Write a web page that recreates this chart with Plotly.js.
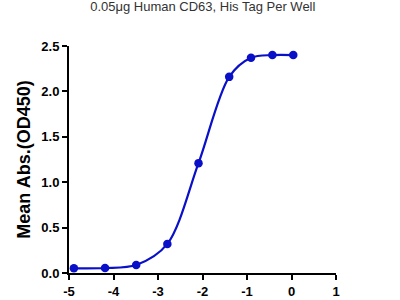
<!DOCTYPE html>
<html>
<head>
<meta charset="utf-8">
<script src="https://cdn.plot.ly/plotly-3.0.1.min.js"></script>
<style>html,body{margin:0;padding:0;background:#fff;}#chart{width:400px;height:300px;}</style>
</head>
<body>
<div id="chart"></div>
<script>
const logConc = [-4.89, -4.19, -3.49, -2.79, -2.09, -1.40, -0.91, -0.43, 0.04];
const meanAbs = [0.052, 0.055, 0.088, 0.32, 1.21, 2.16, 2.37, 2.40, 2.40];
const xTicks = [-5, -4, -3, -2, -1, 0, 1];
const yTicks = [0, 0.5, 1, 1.5, 2, 2.5];
const yTickLabels = ['0.0', '0.5', '1.0', '1.5', '2.0', '2.5'];
const titleText = '0.05μg Human CD63, His Tag Per Well';
const yTitleText = 'Mean Abs.(OD450)';

const blue = '#0a0fc8';
const trace = {
  x: logConc, y: meanAbs, type: 'scatter', mode: 'lines+markers',
  line: {color: blue, width: 2.2, shape: 'spline', smoothing: 0.9},
  marker: {color: blue, size: 8.5},
  cliponaxis: false, hoverinfo: 'none'
};
const tickFont = {family: 'Liberation Sans, Arial, sans-serif', size: 13, color: '#000', weight: 'bold'};
const layout = {
  width: 400, height: 300,
  margin: {l: 69, r: 64, t: 46, b: 27},
  paper_bgcolor: '#fff', plot_bgcolor: '#fff',
  showlegend: false,
  title: {text: titleText, x: 0.507, xanchor: 'center', y: 0.978, yanchor: 'middle',
    font: {family: 'Liberation Sans, Arial, sans-serif', size: 13, color: '#333'}},
  xaxis: {range: [-5, 1], tickvals: xTicks, ticktext: xTicks.map(String),
    showgrid: false, zeroline: false, showline: true, linecolor: '#000', linewidth: 2,
    ticks: 'outside', ticklen: 5, tickwidth: 2, tickcolor: '#000', tickfont: tickFont},
  yaxis: {range: [0, 2.5], tickvals: yTicks, ticktext: yTickLabels,
    showgrid: false, zeroline: false, showline: true, linecolor: '#000', linewidth: 2,
    ticks: 'outside', ticklen: 5, tickwidth: 2, tickcolor: '#000', tickfont: tickFont,
    title: {text: yTitleText, standoff: 6,
      font: {family: 'Liberation Sans, Arial, sans-serif', size: 18, color: '#000', weight: 'bold'}}}
};
Plotly.newPlot('chart', [trace], layout, {staticPlot: true, displayModeBar: false});
</script>
</body>
</html>
